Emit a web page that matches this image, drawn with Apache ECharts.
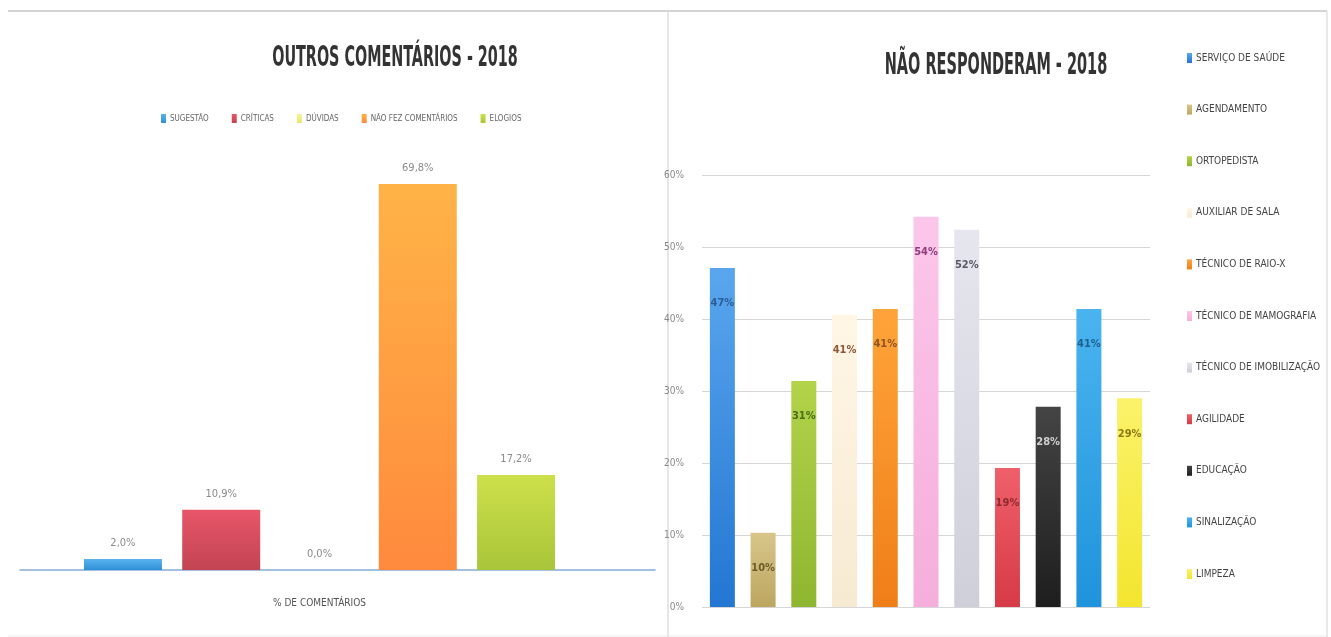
<!DOCTYPE html>
<html>
<head>
<meta charset="utf-8">
<script src="https://cdn.jsdelivr.net/npm/echarts@6/dist/echarts.min.js"></script>
<style>
html,body{margin:0;padding:0;background:#fff;}
#c{width:1331px;height:637px;}
</style>
</head>
<body>
<div id="c"></div>
<script>
// ---- Left chart data ----
const leftTitle = 'OUTROS COMENTÁRIOS - 2018';
const leftCategory = ['% DE COMENTÁRIOS'];
const leftSeriesNames = ['SUGESTÃO', 'CRÍTICAS', 'DÚVIDAS', 'NÃO FEZ COMENTÁRIOS', 'ELOGIOS'];
const leftValues = [2.0, 10.9, 0.0, 69.8, 17.2];
const leftColors = [['#5ab4ee', '#2f8fd6'], ['#e8566a', '#c24452'], ['#f6f39a', '#ece56a'], ['#ffb347', '#ff8a3d'], ['#cde04a', '#a9c53a']];

// ---- Right chart data ----
const rightTitle = 'NÃO RESPONDERAM - 2018';
const rightNames = ['SERVIÇO DE SAÚDE', 'AGENDAMENTO', 'ORTOPEDISTA', 'AUXILIAR DE SALA', 'TÉCNICO DE RAIO-X',
  'TÉCNICO DE MAMOGRAFIA', 'TÉCNICO DE IMOBILIZAÇÃO', 'AGILIDADE', 'EDUCAÇÃO', 'SINALIZAÇÃO', 'LIMPEZA'];
const rightValues = [47.1, 10.3, 31.4, 40.6, 41.4, 54.2, 52.4, 19.3, 27.8, 41.4, 29.0];
const rightColors = [['#5aa6ee', '#2376d2'], ['#d8c68a', '#bca660'], ['#b2d34a', '#8fb630'], ['#fff6e6', '#f7ead2'],
  ['#ffa43a', '#f07e18'], ['#fcc6ea', '#f5aedb'], ['#e6e6ee', '#cfcfda'], ['#f0606a', '#d63a46'],
  ['#444444', '#1e1e1e'], ['#4ab4f0', '#1f93dc'], ['#fbf26a', '#f3e52e']];
const rightLabelColors = ['#2b5f95', '#6e5c28', '#4c6d18', '#8e5a3a', '#8e5424', '#8e3c7c', '#5a5a66',
  '#8e2a30', '#d0d0d0', '#1d5f8e', '#8c7a18'];
const rightTicks = [0, 10, 20, 30, 40, 50, 60];

const FONT = "'DejaVu Sans Condensed', 'Liberation Sans Narrow', 'Liberation Sans', sans-serif";

function grad(c) {
  return new echarts.graphic.LinearGradient(0, 0, 0, 1, [{offset: 0, color: c[0]}, {offset: 1, color: c[1]}]);
}

const series = [];
leftSeriesNames.forEach((n, i) => {
  series.push({
    name: n, type: 'bar', xAxisIndex: 0, yAxisIndex: 0,
    data: [leftValues[i]], barWidth: 78, barGap: '26%',
    itemStyle: {color: grad(leftColors[i])},
    label: {show: true, position: 'top', distance: 10, color: '#8a8a8a', fontFamily: FONT, fontSize: 11,
      formatter: p => p.value.toFixed(1).replace('.', ',') + '%'}
  });
});
rightNames.forEach((n, i) => {
  const d = rightNames.map((_, j) => j === i ? rightValues[i] : '-');
  series.push({
    name: n, type: 'bar', xAxisIndex: 2, yAxisIndex: 2, stack: 'r',
    data: d, barWidth: 25,
    itemStyle: {color: grad(rightColors[i])},
    label: {show: true, position: 'insideTop', distance: 30, color: rightLabelColors[i], fontFamily: FONT,
      fontSize: 11, fontWeight: 'bold', formatter: p => Math.round(p.value) + '%'}
  });
});

const chart = echarts.init(document.getElementById('c'), null, {renderer: 'canvas'});
chart.setOption({
  animation: false,
  backgroundColor: '#ffffff',
  legend: [
    {data: leftSeriesNames, left: 156, top: 109, orient: 'horizontal', icon: 'rect', itemWidth: 5, itemHeight: 9,
      itemGap: 23, textStyle: {fontFamily: FONT, fontSize: 8, color: '#666', padding: [0, 0, 0, -1]}},
    {data: rightNames, left: 1182, top: 47, orient: 'vertical', icon: 'rect', itemWidth: 5, itemHeight: 10,
      itemGap: 39.6, textStyle: {fontFamily: FONT, fontSize: 10, color: '#444', lineHeight: 12, padding: [0, 0, 0, -1]}}
  ],
  grid: [
    {left: 20, right: 1331 - 619, top: 183, bottom: 637 - 570},
    {left: 20, right: 1331 - 655, top: 183, bottom: 637 - 570},
    {left: 702, right: 1331 - 1150, top: 175, bottom: 637 - 607}
  ],
  xAxis: [
    {type: 'category', gridIndex: 0, data: leftCategory, axisLine: {show: false}, axisTick: {show: false},
      axisLabel: {margin: 28, fontFamily: FONT, fontSize: 10, color: '#555'}},
    {type: 'category', gridIndex: 1, data: [''], axisLine: {show: true, lineStyle: {color: '#86acd6', width: 1.5}},
      axisTick: {show: false}, axisLabel: {show: false}},
    {type: 'category', gridIndex: 2, data: rightNames, axisLine: {show: false}, axisTick: {show: false},
      axisLabel: {show: false}}
  ],
  yAxis: [
    {type: 'value', gridIndex: 0, min: 0, max: 70, show: false},
    {type: 'value', gridIndex: 1, min: 0, max: 70, show: false},
    {type: 'value', gridIndex: 2, min: rightTicks[0], max: rightTicks[rightTicks.length - 1], interval: 10,
      axisLine: {show: false}, axisTick: {show: false},
      axisLabel: {formatter: '{value}%', margin: 18, fontFamily: FONT, fontSize: 10, color: '#888'},
      splitLine: {lineStyle: {color: '#d6d6d6', width: 1}}}
  ],
  graphic: [
    {type: 'line', shape: {x1: 8, y1: 11, x2: 1327, y2: 11}, style: {stroke: '#d4d4d4', lineWidth: 2}, silent: true},
    {type: 'line', shape: {x1: 668, y1: 11, x2: 668, y2: 637}, style: {stroke: '#dedede', lineWidth: 1.5}, silent: true},
    {type: 'line', shape: {x1: 1327, y1: 11, x2: 1327, y2: 637}, style: {stroke: '#e2e2e2', lineWidth: 1.5}, silent: true},
    {type: 'line', shape: {x1: 8, y1: 636, x2: 1327, y2: 636}, style: {stroke: '#ececec', lineWidth: 1}, silent: true},
    {type: 'text', x: 395, y: 59, scaleX: 0.57, silent: true,
      style: {text: leftTitle, fontFamily: FONT, fontWeight: 'bold', fontSize: 28, fill: '#333',
        textAlign: 'center', textVerticalAlign: 'middle'}},
    {type: 'text', x: 996, y: 66, scaleX: 0.52, silent: true,
      style: {text: rightTitle, fontFamily: FONT, fontWeight: 'bold', fontSize: 31, fill: '#333',
        textAlign: 'center', textVerticalAlign: 'middle'}}
  ],
  series: series
});
</script>
</body>
</html>
